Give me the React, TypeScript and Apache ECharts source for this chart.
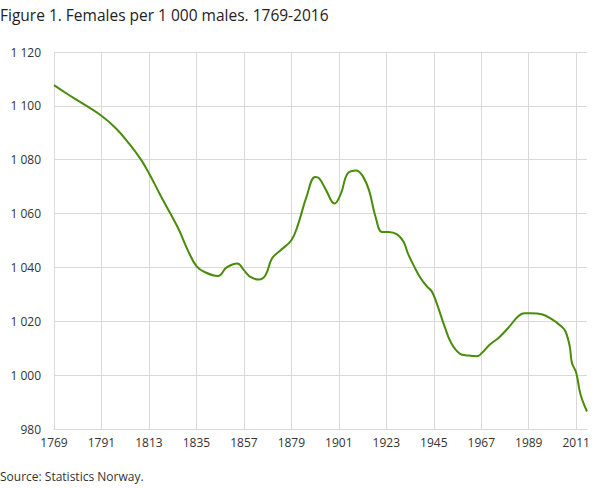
import React, { useRef, useEffect } from 'react';
import * as echarts from 'echarts';

// every year on the axis, 1769-2016
const firstYear = 1769;
const lastYear = 2016;
const years: string[] = [];
for (let y = firstYear; y <= lastYear; y++) years.push(String(y));

// points (year, females per 1 000 males)
const pointYears = [
  '1769', '1775', '1782', '1791', '1798', '1804', '1809', '1813', '1818', '1823',
  '1827', '1831', '1835', '1839', '1845', '1849', '1854', '1857', '1860', '1864',
  '1867', '1870', '1874', '1879', '1882', '1886', '1890', '1892', '1895', '1899',
  '1902', '1905', '1909', '1912', '1915', '1918', '1921', '1924', '1928', '1931',
  '1933', '1936', '1939', '1942', '1944', '1946', '1950', '1953', '1957', '1961',
  '1965', '1967', '1971', '1975', '1980', '1984', '1987', '1990', '1995', '2000',
  '2004', '2006', '2008', '2009', '2011', '2013', '2016',
];
const ratioValues = [
  1107.7, 1104.5, 1101.0, 1096.3, 1091.4, 1085.8, 1080.4, 1075.0, 1067.3, 1059.9,
  1053.8, 1046.4, 1040.5, 1038.2, 1036.8, 1040.0, 1041.5, 1039.0, 1036.5, 1035.5,
  1037.1, 1043.3, 1046.4, 1050.1, 1055.7, 1066.2, 1073.6, 1073.0, 1068.8, 1063.7,
  1067.5, 1074.8, 1076.0, 1074.0, 1068.6, 1058.8, 1053.2, 1053.2, 1052.3, 1049.5,
  1045.2, 1040.2, 1035.9, 1032.8, 1031.2, 1027.5, 1018.1, 1012.0, 1008.0, 1007.3,
  1007.0, 1008.0, 1011.4, 1013.8, 1018.0, 1021.8, 1023.0, 1023.0, 1022.6, 1020.6,
  1018.2, 1016.3, 1010.7, 1004.6, 1000.9, 992.8, 986.5,
];

const yMin = 980;
const yMax = 1120;
const yStep = 20;

const fmtThousands = (v: number) => {
  const s = String(Math.round(v));
  return s.length > 3 ? s.slice(0, s.length - 3) + ' ' + s.slice(-3) : s;
};

const App: React.FC = () => {
  const chartRef = useRef<HTMLDivElement>(null);

  useEffect(() => {
    if (!chartRef.current) return;
    const chart = echarts.init(chartRef.current, null, { renderer: 'svg' });

    const font = "'Open Sans', 'Noto Sans', sans-serif";

    chart.setOption({
      animation: false,
      title: {
        text: 'Figure 1. Females per 1 000 males. 1769-2016',
        left: 0,
        top: 7,
        padding: 0,
        textStyle: {
          fontFamily: font,
          fontSize: 15.5,
          fontWeight: 'normal',
          color: '#222',
        },
      },
      graphic: [
        {
          type: 'text',
          left: 0,
          top: 470,
          style: {
            text: 'Source: Statistics Norway.',
            fontFamily: font,
            fontSize: 12,
            fill: '#333',
          },
        },
      ],
      grid: { left: 54, right: 22, top: 52, bottom: 59 },
      xAxis: {
        type: 'category',
        data: years,
        boundaryGap: false,
        axisLine: { show: true, lineStyle: { color: '#d9d9d9', width: 1 } },
        axisTick: { show: false },
        axisLabel: {
          interval: 21,
          margin: 7,
          fontFamily: font,
          fontSize: 12,
          color: '#333',
        },
        splitLine: {
          show: true,
          interval: 21,
          lineStyle: { color: '#d9d9d9', width: 1 },
        },
      },
      yAxis: {
        type: 'value',
        min: yMin,
        max: yMax,
        interval: yStep,
        axisLine: { show: false },
        axisTick: { show: false },
        axisLabel: {
          margin: 13,
          fontFamily: font,
          fontSize: 12,
          color: '#333',
          formatter: (v: number) => fmtThousands(v),
        },
        splitLine: { lineStyle: { color: '#d9d9d9', width: 1 } },
      },
      series: [
        {
          type: 'line',
          data: pointYears.map((y, i) => [y, ratioValues[i]]),
          smooth: 0.4,
          showSymbol: false,
          lineStyle: { color: '#4a8c0a', width: 2 },
          itemStyle: { color: '#4a8c0a' },
        },
      ],
    });

    return () => {
      chart.dispose();
    };
  }, []);

  return (
    <div
      ref={chartRef}
      style={{ position: 'absolute', left: 0, top: 0, width: 609, height: 488 }}
    />
  );
};

export default App;
